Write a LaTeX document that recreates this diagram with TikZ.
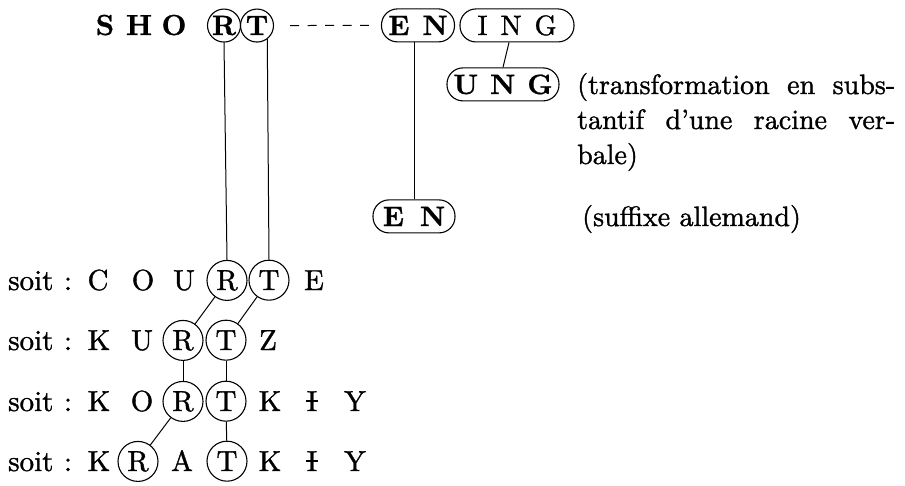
\documentclass[tikz,border=0pt]{standalone}
\usepackage{fontspec}
% slightly heavier Latin Modern faces for the letters and notes
\newfontfamily\heavy{lmroman10-regular.otf}[FakeBold=1.2]
\newfontfamily\heavybf{lmroman10-bold.otf}[FakeBold=0.8]
% capital I crossed by a short horizontal bar
\newcommand{\Ibar}{\ooalign{\hfil I\hfil\cr\hfil\rule[0.3em]{0.42em}{0.07em}\hfil\cr}}
\begin{document}
\begin{tikzpicture}[x=1pt,y=-1pt,
  every node/.style={font=\heavy\fontsize{29}{35}\selectfont},
  let/.style={anchor=base, inner sep=0pt},
  blet/.style={anchor=base, inner sep=0pt, font=\heavybf\fontsize{29}{35}\selectfont},
  circ/.style={anchor=base, draw, circle, inner sep=0pt, minimum size=40pt, line width=1.1pt},
  bcirc/.style={anchor=base, draw, circle, inner sep=0pt, minimum size=33pt, line width=1.1pt, font=\heavybf\fontsize{28}{35}\selectfont},
  oval/.style={anchor=base, draw, rectangle, rounded corners=16pt, inner sep=0pt, minimum height=33pt, line width=1.1pt, font=\heavy\fontsize{28}{35}\selectfont},
  boval/.style={oval, font=\heavybf\fontsize{28}{35}\selectfont},
  link/.style={line width=1pt},
  note/.style={anchor=base west, inner sep=0pt, align=justify, font=\heavy\fontsize{28}{35}\selectfont}
]
\useasboundingbox (0,0) rectangle (905,485);

% top word
\node[blet] (s0) at (105,35) {S};
\node[blet] (h0) at (139,35) {H};
\node[blet] (o0) at (174,35) {O};
\node[bcirc] (r0) at (224,35) {R};
\node[bcirc] (t0) at (257,35) {T};
\node[boval, minimum width=73pt] (enu) at (418,35) {E\hspace{13pt}N};
\node[oval, minimum width=114pt] (ing) at (517,35) {I\hspace{13pt}N\hspace{13pt}G};
\node[boval, minimum width=112pt] (ung) at (503,94) {U\hspace{12pt}N\hspace{12pt}G};
\node[boval, minimum width=82pt] (enl) at (414,226) {E\hspace{16pt}N};

\draw[link, dash pattern=on 9pt off 8.5pt, shorten <=16pt, shorten >=12pt] (t0.east) -- (enu.west);
\draw[link] (ing.south) ++(-8pt,0) coordinate (ingb) (ingb) -- (ung.north);
\draw[link] (enl.north) -- (enl.north |- enu.south);

\node[note, text width=318pt] (n1) at (577,94) {(transformation en subs-\linebreak tantif d’une racine ver-\linebreak bale)};
\node[note] (n2) at (582,226) {(suffixe allemand)};

% row 1
\node[let, anchor=base west] (soit1) at (8,290) {soit};
\node[let] (c1) at (68,290) {:};
\node[let] (l11) at (98,290) {C};
\node[let] (l12) at (143,290) {O};
\node[let] (l13) at (184,290) {U};
\node[circ] (r1) at (227,290) {R};
\node[circ] (t1) at (269,290) {T};
\node[let] (l16) at (314,290) {E};

% row 2
\node[let, anchor=base west] (soit2) at (8,350) {soit};
\node[let] (c2) at (68,350) {:};
\node[let] (l21) at (99,350) {K};
\node[let] (l22) at (142,350) {U};
\node[circ] (r2) at (183,350) {R};
\node[circ] (t2) at (226,350) {T};
\node[let] (l25) at (268,350) {Z};

% row 3
\node[let, anchor=base west] (soit3) at (8,411) {soit};
\node[let] (c3) at (68,411) {:};
\node[let] (l31) at (99,411) {K};
\node[let] (l32) at (142,411) {O};
\node[circ] (r3) at (183,411) {R};
\node[circ] (t3) at (226,411) {T};
\node[let] (l35) at (270,411) {K};
\node[let] (l36) at (312,411) {\Ibar};
\node[let] (l37) at (355,411) {Y};

% row 4
\node[let, anchor=base west] (soit4) at (8,471) {soit};
\node[let] (c4) at (68,471) {:};
\node[let] (l41) at (99,471) {K};
\node[circ] (r4) at (138,471) {R};
\node[let] (l43) at (182,471) {A};
\node[circ] (t4) at (227,471) {T};
\node[let] (l45) at (270,471) {K};
\node[let] (l46) at (312,471) {\Ibar};
\node[let] (l47) at (355,471) {Y};

% links between the letters
\draw[link] (r0.south) -- (r1.north);
\draw[link] (t0.-53) -- (t1.north);
\draw[link] (r1) -- (r2);
\draw[link] (t1) -- (t2);
\draw[link] (r2) -- (r3);
\draw[link] (t2) -- (t3);
\draw[link] (r3) -- (r4);
\draw[link] (t3) -- (t4);
\end{tikzpicture}
\end{document}
